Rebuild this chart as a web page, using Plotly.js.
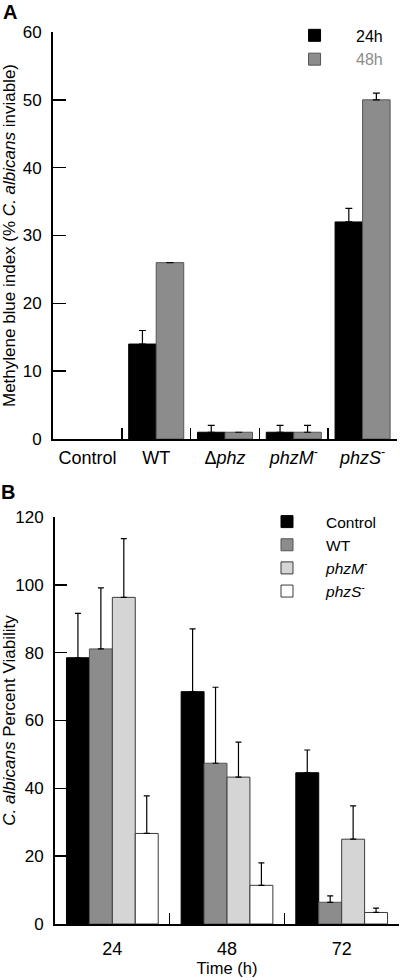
<!DOCTYPE html>
<html>
<head>
<meta charset="utf-8">
<script src="https://cdn.plot.ly/plotly-3.0.1.min.js"></script>
<style>html,body{margin:0;padding:0;background:#fff;}#chart{width:400px;height:978px;}</style>
</head>
<body>
<div id="chart"></div>
<script>
// Panel A data
var strainsA = ['Control', 'WT', 'Δ<i>phz</i>', '<i>phzM</i><sup>-</sup>', '<i>phzS</i><sup>-</sup>'];
var mb24 = [0, 14, 1, 1, 32];
var mb24Err = [0, 2, 1, 1, 2];
var mb48 = [0, 26, 1, 1, 50];
var mb48Err = [0, 0, 0, 1, 1];
var seriesA = ['24h', '48h'];

// Panel B data
var timesB = ['24', '48', '72'];
var seriesB = ['Control', 'WT', '<i>phzM</i><sup>-</sup>', '<i>phzS</i><sup>-</sup>'];
var viabControl = [78.5, 68.5, 44.6];
var viabControlErr = [13.1, 18.5, 6.7];
var viabWT = [81.1, 47.4, 6.4];
var viabWTErr = [18.0, 22.4, 1.9];
var viabPhzM = [96.3, 43.3, 25.0];
var viabPhzMErr = [17.3, 10.3, 9.8];
var viabPhzS = [26.7, 11.4, 3.4];
var viabPhzSErr = [11.1, 6.6, 1.3];

var black = '#000000', gray = '#8c8c8c', light = '#d5d5d5', white = '#ffffff';
var edge = '#3a3a3a';
var FONT = 'Liberation Sans, Arial, Helvetica, sans-serif';

// zero-valued bars draw nothing (as in the figure)
function nz(vals) { return vals.map(function(v){ return v > 0 ? v : null; }); }
function errUp(arr, w) {
  return {type: 'data', symmetric: false, array: arr.map(function(v){ return v > 0 ? v : NaN; }),
          arrayminus: arr.map(function(){ return 0; }),
          color: '#000', thickness: 1.2, width: w};
}

var traces = [
  {type: 'bar', x: strainsA, y: nz(mb24), name: seriesA[0], xaxis: 'x', yaxis: 'y', legend: 'legend',
   marker: {color: black, line: {color: black, width: 1}}, error_y: errUp(mb24Err, 3.5)},
  {type: 'bar', x: strainsA, y: nz(mb48), name: '<span style="color:#8c8c8c">' + seriesA[1] + '</span>', xaxis: 'x', yaxis: 'y', legend: 'legend',
   marker: {color: gray, line: {color: '#555', width: 1}}, error_y: errUp(mb48Err, 3.5)},

  {type: 'bar', x: timesB, y: viabControl, name: seriesB[0], xaxis: 'x2', yaxis: 'y2', legend: 'legend2', legendgroup: 'g1',
   marker: {color: black, line: {color: black, width: 1}}, error_y: errUp(viabControlErr, 3)},
  {type: 'bar', x: timesB, y: viabWT, name: seriesB[1], xaxis: 'x2', yaxis: 'y2', legend: 'legend2', legendgroup: 'g2',
   marker: {color: gray, line: {color: '#555', width: 1}}, error_y: errUp(viabWTErr, 3)},
  {type: 'bar', x: timesB, y: viabPhzM, name: seriesB[2], xaxis: 'x2', yaxis: 'y2', legend: 'legend2', legendgroup: 'g3',
   marker: {color: light, line: {color: edge, width: 1}}, error_y: errUp(viabPhzMErr, 3)},
  {type: 'bar', x: timesB, y: viabPhzS, name: seriesB[3], xaxis: 'x2', yaxis: 'y2', legend: 'legend2', legendgroup: 'g4',
   marker: {color: white, line: {color: edge, width: 1}}, error_y: errUp(viabPhzSErr, 3)}
];

var axisCommon = {showline: true, linecolor: '#000', linewidth: 2, showgrid: false, zeroline: false,
                  ticks: 'inside', tickcolor: '#000', tickwidth: 1.5, mirror: false, fixedrange: true};

var layout = {
  width: 400, height: 978,
  margin: {l: 53, r: 1, t: 32, b: 54},
  paper_bgcolor: '#fff', plot_bgcolor: 'rgba(0,0,0,0)',
  font: {family: FONT, color: '#000', size: 16},
  barmode: 'group', bargap: 0.2, bargroupgap: 0,
  showlegend: true,
  xaxis: Object.assign({}, axisCommon, {domain: [0, 0.9942], anchor: 'y', type: 'category',
    tickson: 'boundaries', ticklen: 11, tickfont: {size: 18}, ticklabelstandoff: 1}),
  yaxis: Object.assign({}, axisCommon, {domain: [0.5437, 1], anchor: 'x', range: [0, 60], dtick: 10,
    ticklen: 13, tickfont: {size: 17}, ticklabelstandoff: 6,
    title: {text: 'Methylene blue index (% <i>C. albicans</i> inviable)', font: {size: 17}, standoff: 4}}),
  xaxis2: Object.assign({}, axisCommon, {domain: [0.0058, 1], anchor: 'y2', type: 'category',
    tickson: 'boundaries', ticklen: 11, tickfont: {size: 18}, ticklabelstandoff: 7,
    title: {text: 'Time (h)', font: {size: 16.5}, standoff: 3}}),
  yaxis2: Object.assign({}, axisCommon, {domain: [0, 0.4563], anchor: 'x2', range: [0, 120], dtick: 20,
    ticklen: 12, tickfont: {size: 17}, ticklabelstandoff: 6,
    title: {text: '<i>C. albicans</i> Percent Viability', font: {size: 17}, standoff: 4}}),
  legend: {x: 0.636, y: 1.0152, xanchor: 'left', yanchor: 'top', bgcolor: 'rgba(0,0,0,0)',
    font: {size: 16, family: FONT}, itemwidth: 73, tracegroupgap: 0, traceorder: 'normal'},
  legend2: {x: 0.5636, y: 0.4697, xanchor: 'left', yanchor: 'top', bgcolor: 'rgba(0,0,0,0)',
    font: {size: 15.5, family: FONT}, itemwidth: 68, tracegroupgap: 12, traceorder: 'normal'},
  annotations: [
    {text: '<b>A</b>', xref: 'paper', yref: 'paper', x: -0.124, y: 1.0224, xanchor: 'center', yanchor: 'middle',
     showarrow: false, font: {size: 20, family: FONT}},
    {text: '<b>B</b>', xref: 'paper', yref: 'paper', x: -0.13, y: 0.4843, xanchor: 'center', yanchor: 'middle',
     showarrow: false, font: {size: 20, family: FONT}}
  ]
};

Plotly.newPlot('chart', traces, layout, {displayModeBar: false, staticPlot: true});
</script>
</body>
</html>
